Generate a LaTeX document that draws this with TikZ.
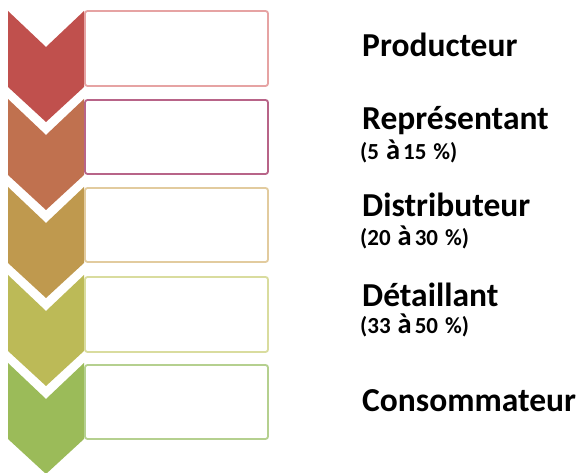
\documentclass[tikz,border=0pt]{standalone}
\usepackage{fontspec}
\setmainfont{Carlito}
\definecolor{fa}{HTML}{C0504D}
\definecolor{fb}{HTML}{C0714F}
\definecolor{fc}{HTML}{BF994E}
\definecolor{fd}{HTML}{BCBA57}
\definecolor{fe}{HTML}{9BBB59}
\definecolor{ba}{HTML}{E6A3A3}
\definecolor{bb}{HTML}{B86488}
\definecolor{bc}{HTML}{E2CB9E}
\definecolor{bd}{HTML}{D9DC9E}
\definecolor{be}{HTML}{B5D08F}
\newcommand{\chev}[2]{%
  \fill[#2] (8,#1) -- (46,#1+36) -- (84,#1) -- (84,#1+76) -- (46,#1+111) -- (8,#1+76) -- cycle;}
\tikzset{
  panel/.style={draw, line width=1.8pt, fill=white, rounded corners=2.5pt},
  title/.style={anchor=base west, inner sep=0pt, font=\fontsize{33.5}{36}\selectfont\bfseries},
  share/.style={anchor=base west, inner sep=0pt, font=\fontsize{23}{24}\selectfont\bfseries}
}
\newcommand{\bigA}{{\fontsize{28.5}{29}\selectfont à}}
\newcommand{\wsp}{\hspace{7pt}}
\begin{document}
\begin{tikzpicture}[x=1pt,y=-1pt]
\useasboundingbox (0,0) rectangle (582,473);
\chev{11}{fa}
\chev{99}{fb}
\chev{187}{fc}
\chev{275}{fd}
\chev{363}{fe}
\draw[panel, draw=ba] (85,11) rectangle (268,86);
\draw[panel, draw=bb] (85,100) rectangle (268,174);
\draw[panel, draw=bc] (85,188) rectangle (268,262);
\draw[panel, draw=bd] (85,277) rectangle (268,352);
\draw[panel, draw=be] (85,365) rectangle (268,439);
\node[title] (t1) at (362,57) {Producteur};
\node[title] (t2) at (362,130) {Représentant};
\node[share] (s2) at (360,160) {(5\wsp\bigA\hspace{3pt}15\wsp\%)};
\node[title] (t3) at (362,217) {Distributeur};
\node[share] (s3) at (360,246) {(20\wsp\bigA\hspace{3pt}30\wsp\%)};
\node[title] (t4) at (362,307) {Détaillant};
\node[share] (s4) at (360,334) {(33\wsp\bigA\hspace{3pt}50\wsp\%)};
\node[title] (t5) at (362,412) {Consommateur};
\end{tikzpicture}
\end{document}
